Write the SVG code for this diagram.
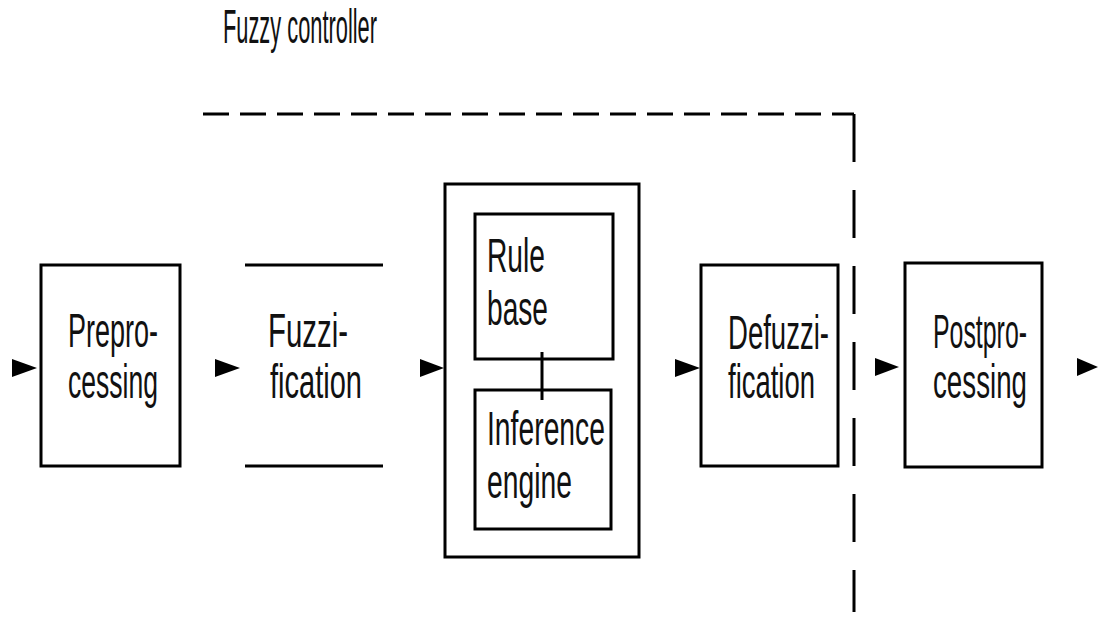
<svg xmlns="http://www.w3.org/2000/svg" width="1098" height="617" viewBox="0 0 1098 617">
<style>
.box{fill:none;stroke:#000;stroke-width:3}
.dash{fill:none;stroke:#000;stroke-width:3}
.t{font-family:"Liberation Sans",Arial,sans-serif;font-size:49px;fill:#111}
.ah{fill:#000}
</style>
<rect width="1098" height="617" fill="#fff"/>
<g id="title">
<text class="t" x="223" y="43" font-size="43" textLength="154" lengthAdjust="spacingAndGlyphs">Fuzzy controller</text>
</g>
<g id="boundary">
<line class="dash" x1="203" y1="114" x2="854" y2="114" stroke-dasharray="26,11"/>
<line class="dash" x1="854" y1="114" x2="854" y2="612" stroke-dasharray="48,28"/>
</g>
<g id="preprocessing">
<rect class="box" x="41" y="265" width="139" height="201"/>
<text class="t" x="68" y="347" textLength="90" lengthAdjust="spacingAndGlyphs">Prepro-</text>
<text class="t" x="68" y="398" textLength="90" lengthAdjust="spacingAndGlyphs">cessing</text>
</g>
<g id="fuzzification">
<line class="box" x1="245" y1="265" x2="383" y2="265"/>
<line class="box" x1="245" y1="466" x2="383" y2="466"/>
<text class="t" x="268" y="347" textLength="80" lengthAdjust="spacingAndGlyphs">Fuzzi-</text>
<text class="t" x="270" y="398" textLength="92" lengthAdjust="spacingAndGlyphs">fication</text>
</g>
<g id="inference-block">
<rect class="box" x="445" y="184" width="194" height="373"/>
</g>
<g id="rule-base">
<rect class="box" x="475" y="214" width="138" height="145"/>
<text class="t" x="487" y="272" font-size="47" textLength="58" lengthAdjust="spacingAndGlyphs">Rule</text>
<text class="t" x="487" y="325" font-size="47" textLength="61" lengthAdjust="spacingAndGlyphs">base</text>
</g>
<g id="inference-engine">
<rect class="box" x="475" y="390" width="136" height="139"/>
<text class="t" x="487" y="445" font-size="48" textLength="118" lengthAdjust="spacingAndGlyphs">Inference</text>
<text class="t" x="487" y="498" font-size="48" textLength="85" lengthAdjust="spacingAndGlyphs">engine</text>
</g>
<g id="defuzzification">
<rect class="box" x="701" y="265" width="137" height="201"/>
<text class="t" x="728" y="349" font-size="45" textLength="101" lengthAdjust="spacingAndGlyphs">Defuzzi-</text>
<text class="t" x="728" y="398" font-size="45" textLength="87" lengthAdjust="spacingAndGlyphs">fication</text>
</g>
<g id="postprocessing">
<rect class="box" x="905" y="263" width="137" height="204"/>
<text class="t" x="933" y="348" textLength="94" lengthAdjust="spacingAndGlyphs">Postpro-</text>
<text class="t" x="933" y="398" textLength="94" lengthAdjust="spacingAndGlyphs">cessing</text>
</g>
<g id="connectors">
<line class="box" x1="542" y1="352" x2="542" y2="400"/>
<polygon class="ah" points="12,359 37,368 12,377"/>
<polygon class="ah" points="215,359 240,368 215,377"/>
<polygon class="ah" points="420,359 444,368 420,377"/>
<polygon class="ah" points="675,359 700,368 675,377"/>
<polygon class="ah" points="875,358 899,367 875,376"/>
<polygon class="ah" points="1077,358 1098,367 1077,376"/>
</g>
</svg>
